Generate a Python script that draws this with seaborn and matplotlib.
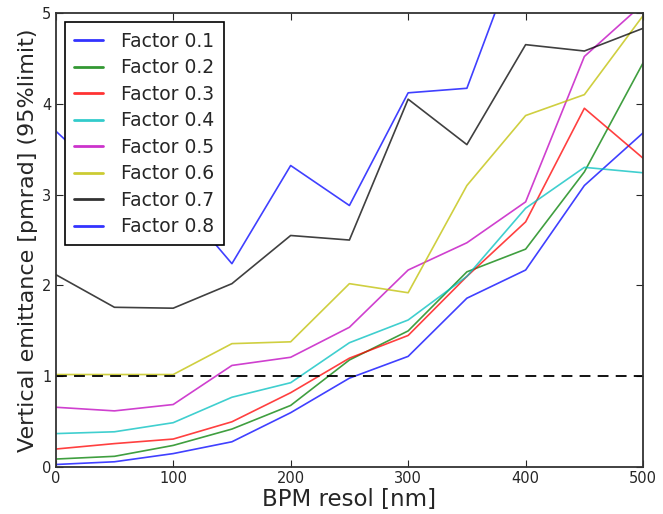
import matplotlib
matplotlib.use("Agg")
import matplotlib.pyplot as plt
import pandas as pd
import seaborn as sns

# BPM resolution points [nm]
resol = [0, 50, 100, 150, 200, 250, 300, 350, 400, 450, 500]

# vertical emittance per factor
f01 = [0.03, 0.06, 0.15, 0.28, 0.60, 0.98, 1.22, 1.86, 2.17, 3.10, 3.68]
f02 = [0.09, 0.12, 0.24, 0.42, 0.68, 1.18, 1.50, 2.15, 2.40, 3.25, 4.45]
f03 = [0.20, 0.26, 0.31, 0.50, 0.82, 1.20, 1.45, 2.10, 2.70, 3.95, 3.40]
f04 = [0.37, 0.39, 0.49, 0.77, 0.93, 1.37, 1.62, 2.10, 2.85, 3.30, 3.24]
f05 = [0.66, 0.62, 0.69, 1.12, 1.21, 1.54, 2.17, 2.47, 2.92, 4.52, 5.10]
f06 = [1.02, 1.02, 1.02, 1.36, 1.38, 2.02, 1.92, 3.10, 3.87, 4.10, 4.97]
f07 = [2.12, 1.76, 1.75, 2.02, 2.55, 2.50, 4.05, 3.55, 4.65, 4.58, 4.83]
f08 = [3.70, 3.10, 3.00, 2.24, 3.32, 2.88, 4.12, 4.17, 5.90, 6.20, 6.50]

factors = ["Factor 0.1", "Factor 0.2", "Factor 0.3", "Factor 0.4",
           "Factor 0.5", "Factor 0.6", "Factor 0.7", "Factor 0.8"]
series = [f01, f02, f03, f04, f05, f06, f07, f08]
limit = 1.0

rows = []
for name, vals in zip(factors, series):
    for x, y in zip(resol, vals):
        rows.append({"resol": x, "emit": y, "factor": name})
df = pd.DataFrame(rows)

colors = ["#0000ff", "#007f00", "#ff0000", "#00bfbf",
          "#bf00bf", "#bfbf00", "#000000", "#0000ff"]

sns.set_style("ticks")
plt.rcParams["font.family"] = ["DejaVu Sans"]

fig = plt.figure(figsize=(6.63, 5.14), dpi=100)
ax = fig.add_axes([0.084, 0.091, 0.886, 0.884])

sns.lineplot(data=df, x="resol", y="emit", hue="factor", palette=colors,
             hue_order=factors, linewidth=1.2, alpha=0.75, ax=ax)
ax.axhline(limit, color="black", linestyle="--", linewidth=1.3, dashes=(6, 4))

ax.set_xlim(0, 500)
ax.set_ylim(0, 5)
ax.set_xticks([0, 100, 200, 300, 400, 500])
ax.set_yticks([0, 1, 2, 3, 4, 5])
ax.tick_params(direction="in", top=True, right=True, labelsize=10.5, length=5,
               pad=3)
for s in ax.spines.values():
    s.set_linewidth(1.3)
    s.set_color("#333333")

ax.set_xlabel("BPM resol [nm]", fontsize=16.5, labelpad=1)
ax.set_ylabel("Vertical emittance [pmrad] (95%limit)", fontsize=16, labelpad=3)

handles, labels = ax.get_legend_handles_labels()
leg = ax.legend(handles[:8], labels[:8], loc="upper left", fontsize=13.5,
                frameon=True, fancybox=False, edgecolor="black", framealpha=1,
                handlelength=1.5, handletextpad=1.0, labelspacing=0.4,
                borderpad=0.5)
leg.get_frame().set_linewidth(1.2)
for line in leg.get_lines():
    line.set_linewidth(2)
    line.set_alpha(0.8)

fig.savefig("out.png", dpi=100)
